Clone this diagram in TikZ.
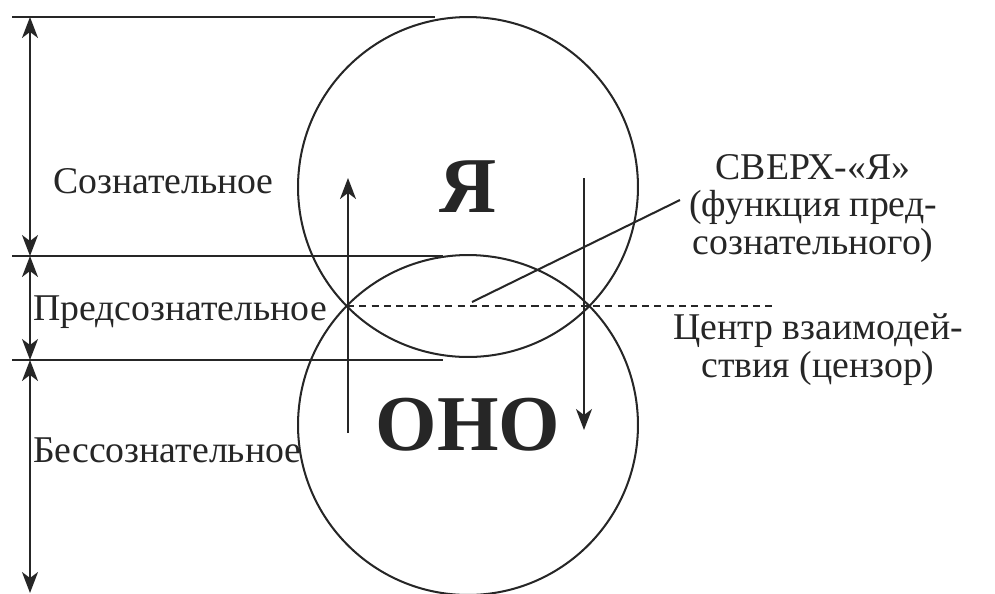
\documentclass[tikz,border=0pt]{standalone}
\usepackage{fontspec}
\setmainfont{Liberation Serif}
\usetikzlibrary{arrows.meta}

\begin{document}
\begin{tikzpicture}[x=.02cm,y=-.02cm,line width=1.15pt,color=black!85,
  font=\fontsize{21.5}{21.5}\selectfont,
  >={Stealth[length=4.2mm,width=3.2mm,inset=1.2mm]},
  lbl/.style={inner sep=0pt},
  sphere/.style={circle,draw,inner sep=0pt,minimum size=6.8cm,font=\fontsize{45}{45}\selectfont\bfseries}]
\useasboundingbox (0,0) rectangle (995,593);
\node[sphere] (ja) at (468,187) {Я};
\node[sphere] (ono) at (468,425) {ОНО};
\coordinate (top) at (30,17);
\coordinate (lv1) at (30,256);
\coordinate (lv2) at (30,360);
\coordinate (bot) at (30,593);
\draw (12,17)--(435,17) (12,256)--(443,256) (12,360)--(443,360);
\draw[<->] (top)--(lv1);
\draw[<->] (lv1)--(lv2);
\draw[<->] (lv2)--(bot);
\coordinate (lx) at (347,306);
\coordinate (dend) at (773,306);
\draw[dash pattern=on 4pt off 3pt] (lx)--(dend);
\coordinate (up0) at (348,433);
\coordinate (up1) at (348,178);
\coordinate (dn0) at (584,178);
\coordinate (dn1) at (584,430);
\draw[->] (up0)--(up1);
\draw[->] (dn0)--(dn1);
\node[lbl,anchor=base west] (soz) at (52,193) {Сознательное};
\node[lbl,anchor=base west] (pred) at (32,320) {Предсознательное};
\node[lbl,anchor=base west] (bessoz) at (32,462) {Бессознательное};
\node[lbl,anchor=north,align=center] (sverh) at (813,153) {СВЕРХ-«Я»\\(функция пред-\\сознательного)};
\node[lbl,anchor=north,align=center] (centr) at (818,313) {Центр взаимодей-\\ствия (цензор)};
\coordinate (lead) at (472,302);
\coordinate (sv) at (680,200);
\draw (lead)--(sv);
\end{tikzpicture}
\end{document}
